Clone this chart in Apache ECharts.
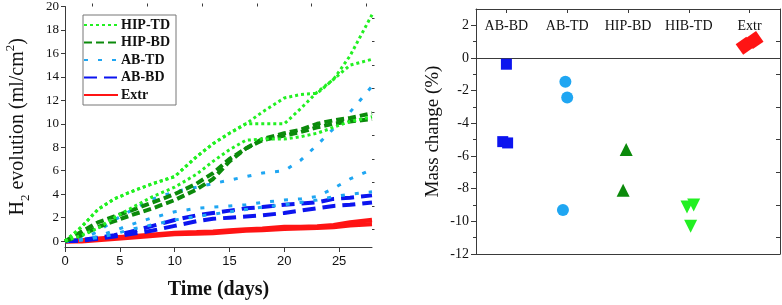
<!DOCTYPE html>
<html><head><meta charset="utf-8">
<script src="https://cdn.jsdelivr.net/npm/echarts@6/dist/echarts.min.js"></script>
<style>html,body{margin:0;padding:0;background:#fff}#c{width:782px;height:305px}</style>
</head><body><div id="c"></div>
<script>
// ---- Left panel data: H2 evolution (ml/cm2) vs time (days)
const days = [0, 1.5, 3, 4.5, 6, 8, 10, 12, 13.5, 15, 16.5, 18, 20, 21.5, 23, 24.5, 26, 28];
const hipTD_1 = [0, 1.2, 2.7, 3.6, 4.2, 4.9, 5.5, 7.2, 8.3, 9.2, 10.0, 11.0, 12.2, 12.5, 12.6, 13.8, 15.0, 15.5];
const hipTD_2 = [0, 1.2, 2.7, 3.6, 4.2, 4.9, 5.5, 7.2, 8.3, 9.2, 10.0, 10.0, 10.0, 11.3, 12.7, 13.8, 15.8, 19.3];
const hipTD_3 = [0, 0.5, 1.1, 2.0, 2.8, 3.8, 4.6, 5.7, 6.8, 7.8, 8.6, 8.7, 8.7, 8.9, 9.2, 9.7, 10.2, 10.6];
const hipBD_1 = [0, 0.8, 1.6, 2.1, 2.6, 3.3, 4.0, 4.9, 5.8, 7.0, 7.9, 8.7, 9.2, 9.5, 10.0, 10.3, 10.5, 10.9];
const hipBD_2 = [0, 0.5, 1.2, 1.7, 2.2, 2.8, 3.5, 4.4, 5.3, 6.8, 7.9, 8.6, 9.0, 9.3, 9.7, 10.0, 10.2, 10.4];
const abTD_1 = [0, 0.2, 0.8, 1.8, 2.6, 3.6, 4.2, 4.6, 4.9, 5.2, 5.5, 5.8, 6.0, 6.9, 8.2, 9.6, 11.0, 13.2];
const abTD_2 = [0, 0.1, 0.4, 0.9, 1.4, 2.0, 2.5, 2.8, 2.9, 3.0, 3.1, 3.3, 3.5, 3.6, 3.8, 4.5, 5.3, 6.1];
const abTD_3 = [0, 0.1, 0.3, 0.6, 1.0, 1.4, 1.8, 2.1, 2.3, 2.5, 2.7, 2.9, 3.1, 3.3, 3.5, 3.8, 4.0, 4.2];
const abBD_1 = [0, 0.1, 0.3, 0.5, 0.8, 1.3, 1.8, 2.2, 2.4, 2.6, 2.8, 2.9, 3.1, 3.2, 3.3, 3.6, 3.7, 3.9];
const abBD_2 = [0, 0.05, 0.2, 0.4, 0.6, 0.9, 1.3, 1.7, 1.9, 2.0, 2.1, 2.2, 2.4, 2.6, 2.8, 3.0, 3.1, 3.3];
const extr_1 = [0, 0.05, 0.2, 0.3, 0.4, 0.55, 0.7, 0.75, 0.8, 0.9, 1.0, 1.05, 1.2, 1.2, 1.25, 1.35, 1.6, 1.8];
const extr_2 = [0, 0, 0.1, 0.2, 0.3, 0.45, 0.6, 0.65, 0.7, 0.8, 0.9, 0.95, 1.05, 1.1, 1.15, 1.2, 1.35, 1.45];
const xTickLabels = [0, 5, 10, 15, 20, 25];
const yTickLabels = [0, 2, 4, 6, 8, 10, 12, 14, 16, 18, 20];

// ---- Right panel data: mass change (%)
const massCats = ['AB-BD', 'AB-TD', 'HIP-BD', 'HIB-TD', 'Extr'];
const massABBD = [-0.38, -5.12, -5.2];
const massABBD_jit = [0, -0.06, 0.02];
const massABTD = [-1.45, -2.42, -9.3];
const massABTD_jit = [-0.03, 0, -0.07];
const massHIPBD = [-5.6, -8.1];
const massHIPBD_jit = [-0.03, -0.08];
const massHIBTD = [-9.12, -9.0, -10.3];
const massHIBTD_jit = [-0.03, 0.08, 0.03];
const massExtr = [0.75, 1.1];
const massExtr_jit = [-0.08, 0.08];
const massTicks = [-12, -10, -8, -6, -4, -2, 0, 2];

const SERIF = 'Liberation Serif';
const SANS = 'Liberation Sans';
const AX = '#3a3a3a';

const C = {
  hipTD: '#22f022', hipBD: '#0b8a0b', abTD: '#1fa6f2', abBD: '#0c14ef', extr: '#ff1414'
};
const STY = {
  'HIP-TD': {color: C.hipTD, type: [3, 3], width: 3},
  'HIP-BD': {color: C.hipBD, type: [8, 4], width: 4},
  'AB-TD': {color: C.abTD, type: [4, 10], width: 3},
  'AB-BD': {color: C.abBD, type: [13, 7], width: 4},
  'Extr': {color: C.extr, type: 'solid', width: 4.5}
};
function pairs(vals) { return days.map((d, i) => [d, vals[i]]); }
function lineSeries(name, vals, z) {
  const s = STY[name];
  return {
    type: 'line', name: name, xAxisIndex: 0, yAxisIndex: 0, data: pairs(vals),
    symbol: 'none', z: z, color: s.color,
    lineStyle: {color: s.color, type: s.type, width: s.width},
    itemStyle: {color: s.color}, animation: false
  };
}
function scat(idx, vals, jit, symbol, size, color, rot) {
  return {
    type: 'scatter', xAxisIndex: 2, yAxisIndex: 2,
    data: vals.map((v, i) => [idx + jit[i], v]),
    symbol: symbol, symbolSize: size, symbolRotate: rot || 0,
    itemStyle: {color: color, opacity: 1}, animation: false, z: 5
  };
}
function range(a, b, s) { const r = []; for (let v = a; v <= b + 1e-9; v += s) r.push(+v.toFixed(3)); return r; }
const noZero = {onZero: false, show: true, lineStyle: {color: AX, width: 1}};

const chart = echarts.init(document.getElementById('c'), null, {renderer: 'canvas'});
const option = {
  backgroundColor: '#fff',
  animation: false,
  grid: [
    {left: 65, top: 6, width: 307, height: 247},
    {left: 476, top: 9, width: 304, height: 245}
  ],
  legend: {
    left: 83, top: 15, orient: 'vertical',
    data: ['HIP-TD', 'HIP-BD', 'AB-TD', 'AB-BD', 'Extr'],
    itemWidth: 34, itemHeight: 14, itemGap: 3.5,
    padding: [3, 6, 3, 0],
    borderColor: '#777', borderWidth: 1, backgroundColor: '#fff',
    itemStyle: {opacity: 0},
    textStyle: {fontFamily: SERIF, fontWeight: 'bold', fontSize: 14, color: '#111', padding: [0, 0, 0, -2]}
  },
  xAxis: [
    {
      gridIndex: 0, type: 'value', min: 0, max: 28,
      axisLine: noZero,
      axisTick: {show: true, customValues: xTickLabels, length: 5, lineStyle: {color: AX}},
      axisLabel: {customValues: xTickLabels, fontFamily: SANS, fontSize: 13, color: '#111', margin: 8},
      splitLine: {show: false},
      name: 'Time (days)', nameLocation: 'middle', nameGap: 33,
      nameTextStyle: {fontFamily: SERIF, fontSize: 20, fontWeight: 'bold', color: '#111'}
    },
    {
      gridIndex: 0, type: 'value', min: 0, max: 28,
      axisLine: {show: false, onZero: false},
      axisTick: {show: true, customValues: [2.5, 7.5, 12.5, 17.5, 22.5, 27.5], length: 3, lineStyle: {color: AX}},
      axisLabel: {show: false}, splitLine: {show: false}
    },
    {
      gridIndex: 1, type: 'value', min: -0.5, max: 4.5, position: 'top',
      axisLine: noZero,
      axisTick: {show: true, inside: true, customValues: [0, 1, 2, 3, 4], length: 4, lineStyle: {color: AX}},
      axisLabel: {customValues: [0, 1, 2, 3, 4], inside: true, margin: 10,
        formatter: v => massCats[Math.round(v)], fontFamily: SERIF, fontSize: 14, color: '#111'},
      splitLine: {show: false}
    },
    {
      gridIndex: 1, type: 'value', min: -0.5, max: 4.5, position: 'bottom',
      axisLine: noZero,
      axisTick: {show: false}, axisLabel: {show: false}, splitLine: {show: false}
    }
  ],
  yAxis: [
    {
      gridIndex: 0, type: 'value', min: -0.5, max: 20,
      axisLine: noZero,
      axisTick: {show: true, customValues: yTickLabels, length: 4, lineStyle: {color: AX}},
      axisLabel: {customValues: yTickLabels, fontFamily: SERIF, fontSize: 13, color: '#111', margin: 6},
      splitLine: {show: false},
      name: '{a|H}{s|2}{a| evolution (ml/cm}{p|2}{a|)}', nameLocation: 'middle', nameGap: 33,
      nameTextStyle: {
        color: '#111',
        rich: {
          a: {fontFamily: SERIF, fontSize: 20, color: '#111', lineHeight: 28, verticalAlign: 'middle'},
          s: {fontFamily: SERIF, fontSize: 13, color: '#111', lineHeight: 28, verticalAlign: 'bottom'},
          p: {fontFamily: SERIF, fontSize: 13, color: '#111', lineHeight: 28, verticalAlign: 'top'}
        }
      }
    },
    {
      gridIndex: 0, type: 'value', min: -0.5, max: 20,
      axisLine: {show: false, onZero: false},
      axisTick: {show: true, customValues: range(1, 19, 2), length: 2.5, lineStyle: {color: AX}},
      axisLabel: {show: false}, splitLine: {show: false}
    },
    {
      gridIndex: 1, type: 'value', min: -12, max: 3, position: 'left',
      axisLine: noZero,
      axisTick: {show: true, customValues: massTicks, length: 5, lineStyle: {color: AX}},
      axisLabel: {customValues: massTicks, fontFamily: SERIF, fontSize: 14, color: '#111', margin: 7},
      splitLine: {show: false},
      name: 'Mass change (%)', nameLocation: 'middle', nameGap: 33,
      nameTextStyle: {fontFamily: SERIF, fontSize: 19, color: '#111'}
    },
    {
      gridIndex: 1, type: 'value', min: -12, max: 3, position: 'left',
      axisLine: {show: false, onZero: false},
      axisTick: {show: true, customValues: range(-11, 1, 2), length: 3, lineStyle: {color: AX}},
      axisLabel: {show: false}, splitLine: {show: false}
    },
    {
      gridIndex: 1, type: 'value', min: -12, max: 3, position: 'right',
      axisLine: noZero,
      axisTick: {show: true, inside: true, customValues: range(-11, 1, 2), length: 4, lineStyle: {color: AX}},
      axisLabel: {show: false}, splitLine: {show: false}
    }
  ],
  series: [
    lineSeries('Extr', extr_2, 2), lineSeries('Extr', extr_1, 2),
    lineSeries('AB-BD', abBD_2, 3), lineSeries('AB-BD', abBD_1, 3),
    lineSeries('AB-TD', abTD_3, 4), lineSeries('AB-TD', abTD_2, 4), lineSeries('AB-TD', abTD_1, 4),
    lineSeries('HIP-BD', hipBD_2, 5), lineSeries('HIP-BD', hipBD_1, 5),
    lineSeries('HIP-TD', hipTD_3, 6), lineSeries('HIP-TD', hipTD_1, 6), lineSeries('HIP-TD', hipTD_2, 6),
    Object.assign(scat(0, massABBD, massABBD_jit, 'rect', 11, '#0c14ef'), {
      markLine: {silent: true, symbol: 'none', label: {show: false},
        lineStyle: {color: AX, width: 1, type: 'solid'}, data: [{yAxis: 0}]}
    }),
    scat(1, massABTD, massABTD_jit, 'circle', 12, '#1fa6f2'),
    scat(2, massHIPBD, massHIPBD_jit, 'triangle', 13, '#0b8a0b'),
    scat(3, massHIBTD, massHIBTD_jit, 'triangle', 13, '#22f022', 180),
    scat(4, massExtr, massExtr_jit, 'rect', 13, '#ff1414', 35)
  ]
};
chart.setOption(option);
</script>
</body></html>
